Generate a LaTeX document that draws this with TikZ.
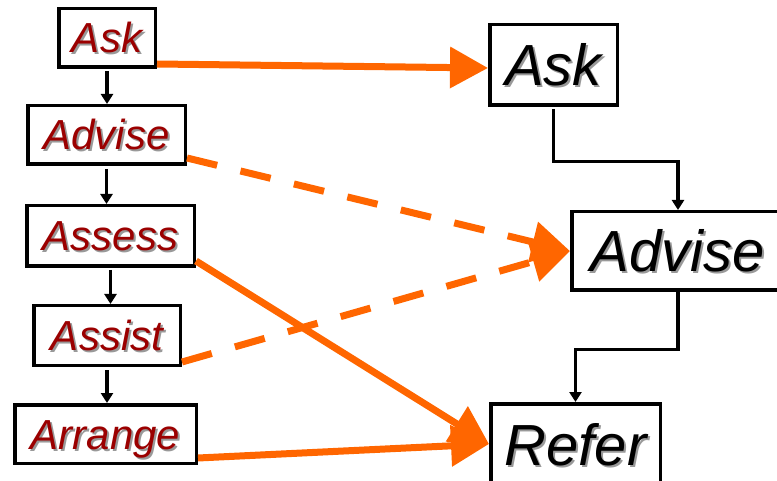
\documentclass[tikz,border=0pt]{standalone}
\usepackage{fontspec}
\setmainfont{Liberation Sans}
\usetikzlibrary{arrows.meta,calc}
\definecolor{lred}{RGB}{155,0,0}
\definecolor{org}{RGB}{255,102,0}
\newcommand\shtxt[2]{\makebox[0pt][l]{\hspace{2pt}\raisebox{-2pt}{\textcolor{black!40}{#2}}}\textcolor{#1}{#2}}
\begin{document}
\begin{tikzpicture}[x=1pt,y=-1pt,
  box/.style={draw=black,line width=3.5pt,inner sep=0pt,fill=white},
  lbox/.style={box,font=\fontsize{42}{44}\selectfont\itshape,text height=30pt,text depth=0pt},
  rbox/.style={box,font=\fontsize{58}{60}\selectfont\itshape,text height=42pt,text depth=0pt},
  blk/.style={draw=black,line width=3.3pt,-{Triangle[length=10pt,width=12pt]}},
  orng/.style={draw=org,line width=7pt,-{Triangle[length=38pt,width=40pt]}},
  dsh/.style={orng,dash pattern=on 31pt off 24pt}]
\useasboundingbox (0,0) rectangle (777,481);
% left column
\node[lbox,minimum width=96.5pt,minimum height=58.5pt] (lask) at (107,38) {\shtxt{lred}{Ask}};
\node[lbox,minimum width=157.5pt,minimum height=58.5pt] (ladv) at (106.5,135) {\shtxt{lred}{Advise}};
\node[lbox,minimum width=167.5pt,minimum height=60.5pt] (lass) at (110.5,236) {\shtxt{lred}{Assess}};
\node[lbox,minimum width=146.5pt,minimum height=59.5pt] (lasi) at (107,335.5) {\shtxt{lred}{Assist}};
\node[lbox,minimum width=181.5pt,minimum height=58.5pt] (larr) at (105.5,434) {\shtxt{lred}{Arrange}};
% right column
\node[rbox,minimum width=127.5pt,minimum height=80.5pt] (rask) at (553.5,65) {\shtxt{black}{Ask}};
\node[rbox,minimum width=212.5pt,minimum height=78.5pt] (radv) at (678,251) {\shtxt{black}{Advise}};
\node[rbox,minimum width=169.5pt,minimum height=80.5pt] (rref) at (575.5,444) {\shtxt{black}{Refer}};
% left chain
\draw[blk,shorten <=2pt] (lask.south) -- (lask.south |- ladv.north);
\draw[blk,shorten <=3pt] (ladv.south) -- (ladv.south |- lass.north);
\draw[blk,shorten <=2pt] (lass.south) -- (lass.south |- lasi.north);
\draw[blk,shorten <=3pt] (lasi.south) -- (lasi.south |- larr.north);
% right chain
\draw[blk,shorten <=2pt] (rask.south) -- ++(0,54.5) -| (radv.north);
\draw[blk] (radv.south) -- ++(0,57.5) -| (rref.north);
% orange connectors
\draw[orng] ([yshift=5pt]lask.south east) -- ([yshift=-3pt]rask.west);
\draw[dsh] ([yshift=8pt]ladv.south east) -- (radv.west);
\draw[orng] ([yshift=7pt]lass.south east) -- (rref.west);
\draw[dsh] ([yshift=5pt]lasi.south east) -- (radv.west);
\draw[orng] ([yshift=7pt]larr.south east) -- (rref.west);
\end{tikzpicture}
\end{document}
